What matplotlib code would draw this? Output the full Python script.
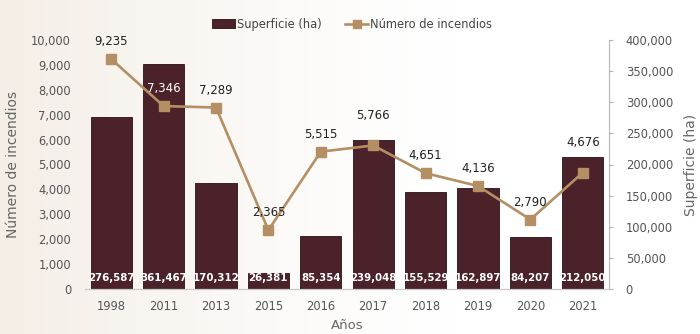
import numpy as np
import matplotlib
matplotlib.use("Agg")
import matplotlib.pyplot as plt
from matplotlib.lines import Line2D
from matplotlib.patches import Patch
from matplotlib.transforms import offset_copy

# Incendios forestales por año
years = ["1998", "2011", "2013", "2015", "2016", "2017", "2018", "2019", "2020", "2021"]
superficie_ha = [276587, 361467, 170312, 26381, 85354, 239048, 155529, 162897, 84207, 212050]
num_incendios = [9235, 7346, 7289, 2365, 5515, 5766, 4651, 4136, 2790, 4676]

BAR_COLOR = "#4b212a"
LINE_COLOR = "#b38f63"
TEXT_COLOR = "#555555"
LABEL_COLOR = "#666666"

# vertical gap (points) between each marker and its value label
label_gap_pt = [12.5, 12.5, 12.5, 12.5, 12.5, 21.5, 12.5, 12.5, 12.5, 21.5]

plt.rcParams["font.family"] = ["DejaVu Sans"]

fig = plt.figure(figsize=(7.0, 3.34), dpi=100)
fig.patch.set_facecolor("white")

# soft cream backdrop fading to white towards the right
bg = fig.add_axes([0, 0, 1, 1], zorder=-10)
xs = np.linspace(0, 1, 400)
fade = np.clip(1 - xs / 0.65, 0, 1) ** 1.3
c0 = np.array([0xf4, 0xee, 0xe6]) / 255.0
row = c0[None, :] * fade[:, None] + (1 - fade[:, None])
bg.imshow(row[None, :, :], aspect="auto", extent=[0, 1, 0, 1])
bg.set_xlim(0, 1)
bg.set_ylim(0, 1)
bg.axis("off")

ax = fig.add_axes([85 / 700, 45 / 334, 524 / 700, 249 / 334])
ax2 = ax.twinx()
ax.set_zorder(ax2.get_zorder() + 1)
ax.patch.set_visible(False)
ax2.patch.set_visible(False)

x = np.arange(len(years))

# bars: burned area (right axis)
ax2.bar(x, superficie_ha, width=0.79, color=BAR_COLOR, edgecolor="#2a1117",
        linewidth=0.6, zorder=2)
ax2.set_ylim(0, 400000)
ax2.set_yticks(np.arange(0, 400001, 50000))
ax2.set_yticklabels([f"{v:,}" for v in range(0, 400001, 50000)])
ax2.tick_params(axis="y", colors=TEXT_COLOR, labelsize=8.3, length=3,
                width=0.8, pad=9, direction="out")
ax2.tick_params(axis="y", color="#b5b5b5")
for side in ["top", "left", "bottom"]:
    ax2.spines[side].set_visible(False)
ax2.spines["right"].set_color("#b5b5b5")
ax2.spines["right"].set_linewidth(0.8)
ax2.set_ylabel("Superficie (ha)", color=LABEL_COLOR, fontsize=10, labelpad=8)

for xi, s in zip(x, superficie_ha):
    ax2.text(xi, 17500, f"{s:,}", ha="center", va="center", color="white",
             fontsize=7.4, fontweight="bold", zorder=3)

# line: number of fires (left axis)
ax.plot(x, num_incendios, color=LINE_COLOR, linewidth=1.9, marker="s",
        markersize=7, zorder=4)
ax.set_ylim(0, 10000)
ax.set_xlim(-0.5, len(years) - 0.5)
ax.set_yticks(np.arange(0, 10001, 1000))
ax.set_yticklabels([f"{v:,}" for v in range(0, 10001, 1000)])
ax.tick_params(axis="y", colors=TEXT_COLOR, labelsize=8.3, length=0, pad=10)
ax.set_xticks(x)
ax.set_xticklabels(years)
ax.tick_params(axis="x", colors=TEXT_COLOR, labelsize=8.3, length=0, pad=8)
for side in ["top", "left", "right"]:
    ax.spines[side].set_visible(False)
ax.spines["bottom"].set_color("#c8c8c8")
ax.spines["bottom"].set_linewidth(0.9)
ax.set_ylabel("Número de incendios", color=LABEL_COLOR, fontsize=10, labelpad=8)
ax.set_xlabel("Años", color=LABEL_COLOR, fontsize=9.5, labelpad=4)

# value labels: white where they sit over a bar, dark otherwise
px_per_unit = (249 / 10000) * 72 / 100  # points per left-axis unit
for xi, n, s, gap in zip(x, num_incendios, superficie_ha, label_gap_pt):
    over_bar = (n + gap / px_per_unit) < s / 40.0
    col = "white" if over_bar else "#222222"
    tr = offset_copy(ax.transData, fig=fig, x=0, y=gap, units="points")
    ax.text(xi, n, f"{n:,}", ha="center", va="center", color=col,
            fontsize=8.5, zorder=5, transform=tr)

handles = [
    Patch(facecolor=BAR_COLOR, edgecolor="#2a1117", linewidth=0.6),
    Line2D([0], [0], color=LINE_COLOR, linewidth=1.9, marker="s", markersize=6),
]
fig.legend(handles, ["Superficie (ha)", "Número de incendios"],
           loc="center", bbox_to_anchor=(0.503, 0.928), ncol=2, frameon=False,
           fontsize=8.3, labelcolor="#444444", handlelength=2.0,
           handletextpad=0.2, columnspacing=2.0)

fig.savefig("out.png", dpi=100, facecolor=fig.get_facecolor())
